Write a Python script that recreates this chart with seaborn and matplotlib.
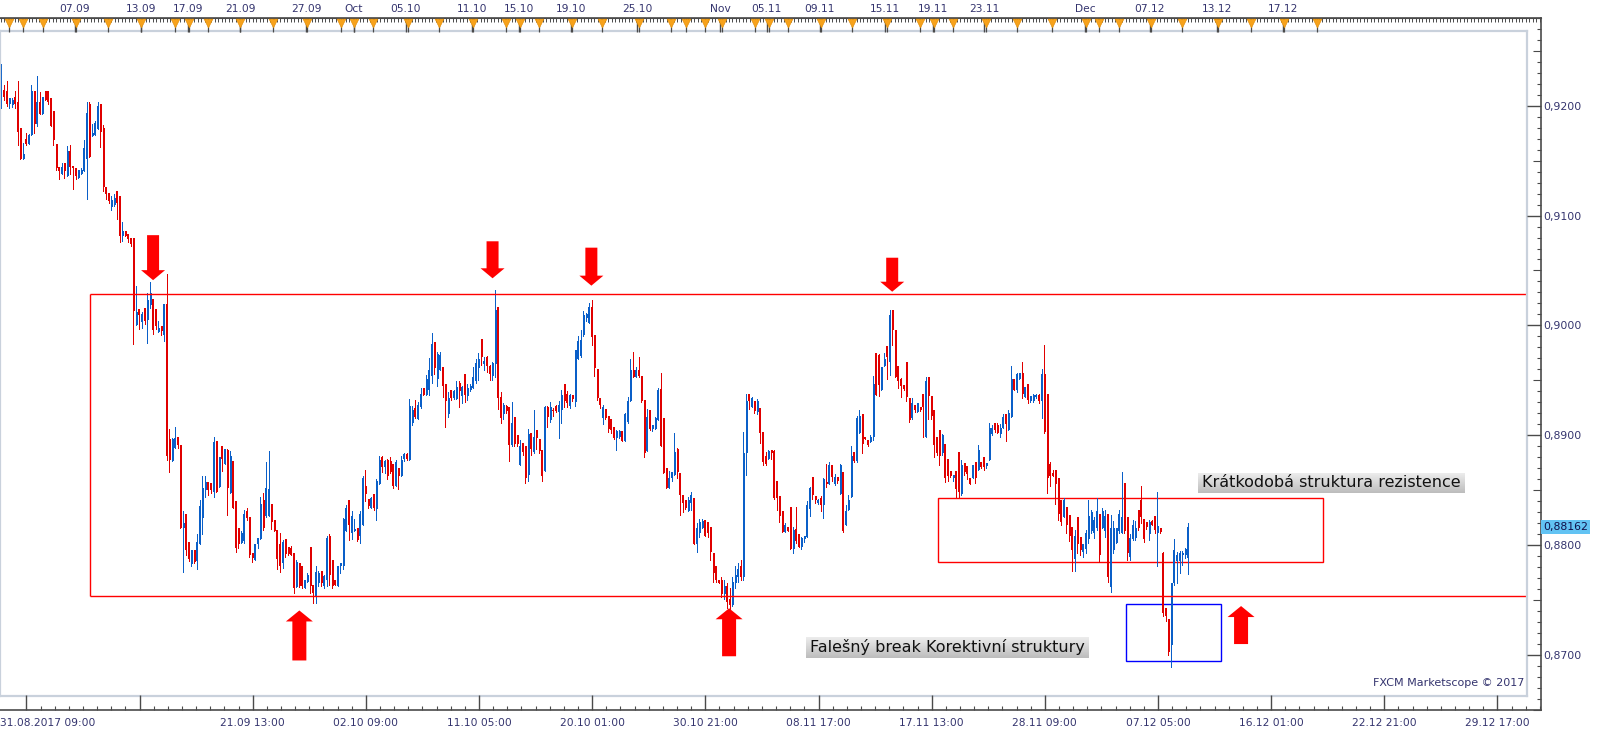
import numpy as np
import pandas as pd
import seaborn as sns
import matplotlib.pyplot as plt
from matplotlib.patches import Polygon

sns.set_style('white')
plt.rcParams['font.family'] = ['DejaVu Sans']

# H4 bars, prices in pips (9213 -> 0.9213)
opens = [
    9197, 9213, 9212, 9200, 9199, 9206, 9202, 9178, 9150, 9168,
    9164, 9172, 9212, 9182, 9202, 9191, 9212, 9212, 9205, 9194,
    9164, 9143, 9136, 9146, 9135, 9157, 9144, 9142, 9133, 9136,
    9139, 9150, 9200, 9171, 9172, 9177, 9200, 9178, 9125, 9119,
    9106, 9108, 9121, 9116, 9080, 9085, 9082, 9078, 9078, 8999,
    9014, 9002, 9015, 9004, 9017, 9023, 9014, 8993, 8998, 8990,
    9018, 8896, 8876, 8888, 8898, 8890, 8815, 8828, 8802, 8782,
    8795, 8785, 8800, 8824, 8849, 8857, 8856, 8848, 8894, 8852,
    8889, 8873, 8886, 8847, 8876, 8839, 8815,
    8801, 8803, 8830, 8825, 8792, 8786, 8800, 8805, 8840, 8826,
    8826, 8837, 8822, 8813, 8800, 8783, 8805, 8798, 8797, 8792,
    8761, 8783, 8780, 8760, 8766, 8798, 8763, 8752, 8765, 8776,
    8762, 8768, 8808, 8786, 8768, 8762, 8780, 8780, 8812, 8840,
    8810, 8812, 8815, 8808, 8818, 8853, 8841, 8833, 8846, 8832,
    8855, 8879, 8870, 8877, 8876, 8873, 8853, 8869, 8862, 8878,
    8882, 8877, 8910, 8924, 8914, 8925, 8942, 8936, 8940, 8953,
    8984, 8950, 8958, 8961, 8946, 8918, 8940, 8933, 8932, 8947,
    8935, 8955, 8935, 8940, 8942, 8948, 8960,
    8987, 8964, 8970, 8962, 8953, 8964, 9016, 8934, 8918, 8926,
    8925, 8890, 8916, 8899, 8872, 8892, 8889, 8863, 8901, 8884,
    8904, 8896, 8886, 8867, 8925, 8913, 8922, 8926, 8920, 8922,
    8946, 8937, 8926, 8936, 8929, 8968, 8971, 8990, 9006, 9001,
    9016, 8990, 8959, 8933, 8915, 8923, 8917, 8914, 8907, 8897,
    8898, 8903, 8894, 8911, 8930, 8958, 8952, 8958, 8953, 8931,
    8885, 8922, 8905, 8905, 8913, 8941, 8915, 8869, 8851, 8860,
    8863, 8887, 8865, 8845, 8840, 8830, 8838, 8842, 8800, 8810,
    8815, 8822, 8820, 8816, 8792, 8780, 8768,
    8768, 8755, 8762, 8750, 8745, 8765, 8770, 8780, 8770, 8883,
    8937, 8925, 8930, 8920, 8924, 8902, 8880, 8878, 8886, 8885,
    8858, 8844, 8830, 8811, 8816, 8834, 8796, 8814, 8809, 8798,
    8805, 8807, 8832, 8861, 8844, 8838, 8842, 8836, 8857, 8855,
    8872, 8855, 8861, 8846, 8866, 8818, 8831, 8843, 8884, 8876,
    8901, 8918, 8898, 8895, 8893, 8898, 8974, 8972, 8940, 8962,
    8980, 8966, 9013, 8995, 8962, 8950, 8945, 8966, 8933, 8915,
    8927, 8920, 8925, 8937, 8898, 8952, 8935, 8922, 8898, 8904,
    8883, 8891, 8878, 8867, 8860, 8867, 8884,
    8846, 8874, 8871, 8860, 8860, 8875, 8868, 8875, 8879, 8871,
    8877, 8900, 8910, 8908, 8900, 8906, 8918, 8904, 8916, 8950,
    8940, 8950, 8956, 8934, 8946, 8930, 8930, 8934, 8936, 8930,
    8955, 8937, 8873, 8865, 8868, 8860, 8840, 8825, 8834, 8827,
    8816, 8787, 8825, 8807, 8793, 8796, 8805, 8812, 8810, 8815,
    8828, 8815, 8812, 8828, 8761, 8795, 8801, 8812, 8810, 8856,
    8825, 8789, 8805, 8806, 8831, 8840, 8823, 8820, 8809, 8821,
    8826, 8810, 8815, 8792, 8742, 8732, 8709, 8765, 8785, 8785,
    8790, 8790, 8788,
]
highs = [
    9236, 9217, 9221, 9205, 9205, 9212, 9221, 9178, 9165, 9174,
    9173, 9217, 9212, 9225, 9211, 9206, 9212, 9212, 9205, 9194,
    9164, 9143, 9146, 9146, 9162, 9163, 9144, 9142, 9140, 9142,
    9167, 9202, 9202, 9182, 9185, 9202, 9200, 9181, 9125, 9119,
    9116, 9118, 9121, 9116, 9093, 9085, 9082, 9078, 9078, 9035,
    9014, 9011, 9015, 9028, 9038, 9023, 9014, 9003, 8998, 9018,
    9046, 8905, 8897, 8907, 8898, 8890, 8830, 8828, 8802, 8795,
    8795, 8809, 8840, 8862, 8862, 8857, 8856, 8898, 8894, 8879,
    8889, 8887, 8887, 8885, 8876, 8839, 8815,
    8812, 8831, 8833, 8825, 8792, 8800, 8806, 8843, 8847, 8875,
    8885, 8837, 8822, 8813, 8810, 8804, 8805, 8798, 8799, 8792,
    8786, 8783, 8780, 8768, 8774, 8798, 8763, 8780, 8776, 8776,
    8772, 8808, 8809, 8786, 8768, 8780, 8783, 8824, 8836, 8840,
    8830, 8823, 8815, 8830, 8862, 8868, 8841, 8843, 8846, 8859,
    8880, 8880, 8877, 8878, 8879, 8873, 8877, 8869, 8880, 8883,
    8883, 8932, 8926, 8931, 8929, 8942, 8942, 8954, 8969, 8992,
    8984, 8975, 8975, 8961, 8946, 8938, 8940, 8940, 8948, 8948,
    8944, 8955, 8946, 8946, 8961, 8968, 8974,
    8987, 8970, 8971, 8963, 8966, 9031, 9016, 8938, 8928, 8927,
    8925, 8929, 8916, 8899, 8895, 8892, 8889, 8905, 8901, 8922,
    8904, 8896, 8886, 8926, 8926, 8929, 8924, 8927, 8930, 8940,
    8946, 8939, 8937, 8936, 8977, 8989, 8995, 9012, 9010, 9019,
    9022, 8990, 8959, 8933, 8927, 8923, 8917, 8914, 8907, 8904,
    8904, 8903, 8919, 8934, 8968, 8975, 8961, 8970, 8953, 8931,
    8923, 8922, 8908, 8916, 8942, 8956, 8915, 8869, 8867, 8866,
    8901, 8888, 8865, 8845, 8840, 8843, 8848, 8842, 8819, 8823,
    8823, 8822, 8820, 8816, 8792, 8780, 8768,
    8770, 8768, 8765, 8760, 8770, 8780, 8783, 8786, 8902, 8937,
    8937, 8934, 8930, 8932, 8924, 8902, 8884, 8886, 8886, 8886,
    8858, 8844, 8830, 8819, 8816, 8834, 8816, 8834, 8809, 8807,
    8808, 8839, 8852, 8861, 8844, 8841, 8844, 8860, 8873, 8875,
    8872, 8864, 8861, 8873, 8866, 8836, 8845, 8889, 8884, 8917,
    8922, 8918, 8898, 8895, 8899, 8953, 8974, 8973, 8961, 8974,
    8980, 9013, 9013, 8995, 8962, 8951, 8945, 8966, 8933, 8933,
    8927, 8928, 8925, 8937, 8952, 8952, 8935, 8922, 8898, 8904,
    8900, 8891, 8878, 8867, 8863, 8867, 8884,
    8877, 8874, 8871, 8860, 8872, 8875, 8890, 8875, 8879, 8874,
    8910, 8908, 8910, 8910, 8909, 8918, 8918, 8922, 8962, 8950,
    8956, 8956, 8966, 8943, 8946, 8935, 8937, 8937, 8937, 8959,
    8981, 8937, 8875, 8868, 8868, 8860, 8840, 8842, 8834, 8827,
    8816, 8813, 8825, 8807, 8800, 8813, 8840, 8831, 8825, 8842,
    8828, 8833, 8831, 8828, 8827, 8821, 8815, 8831, 8866, 8856,
    8825, 8809, 8822, 8821, 8831, 8853, 8823, 8820, 8822, 8822,
    8826, 8848, 8815, 8793, 8742, 8732, 8765, 8805, 8793, 8794,
    8794, 8797, 8819,
]
lows = [
    9196, 9204, 9198, 9196, 9197, 9196, 9163, 9150, 9150, 9163,
    9164, 9172, 9174, 9180, 9191, 9191, 9204, 9200, 9180, 9163,
    9140, 9132, 9136, 9133, 9135, 9136, 9123, 9132, 9133, 9136,
    9139, 9114, 9152, 9171, 9172, 9177, 9161, 9121, 9114, 9110,
    9104, 9107, 9096, 9075, 9076, 9080, 9075, 9071, 8982, 8999,
    8996, 8997, 9000, 8983, 9015, 8991, 8996, 8993, 8990, 8985,
    8877, 8866, 8876, 8888, 8888, 8815, 8775, 8790, 8785, 8780,
    8783, 8778, 8800, 8809, 8843, 8845, 8847, 8843, 8848, 8852,
    8867, 8873, 8827, 8847, 8833, 8793, 8797,
    8801, 8801, 8822, 8789, 8784, 8786, 8797, 8805, 8813, 8825,
    8826, 8814, 8812, 8778, 8775, 8779, 8789, 8790, 8790, 8756,
    8761, 8761, 8760, 8760, 8766, 8756, 8747, 8747, 8762, 8762,
    8760, 8762, 8763, 8760, 8763, 8762, 8774, 8778, 8812, 8804,
    8805, 8812, 8803, 8801, 8818, 8839, 8833, 8833, 8831, 8822,
    8855, 8866, 8865, 8859, 8865, 8851, 8853, 8850, 8862, 8876,
    8877, 8877, 8908, 8915, 8914, 8924, 8936, 8936, 8936, 8947,
    8955, 8944, 8958, 8934, 8907, 8916, 8931, 8932, 8932, 8925,
    8928, 8929, 8931, 8939, 8942, 8947, 8949,
    8963, 8958, 8957, 8949, 8949, 8952, 8923, 8910, 8914, 8919,
    8876, 8889, 8889, 8889, 8872, 8881, 8856, 8858, 8881, 8883,
    8887, 8883, 8858, 8867, 8907, 8911, 8917, 8920, 8897, 8910,
    8925, 8925, 8924, 8930, 8926, 8968, 8970, 8989, 9003, 9001,
    8981, 8953, 8931, 8924, 8909, 8914, 8902, 8901, 8896, 8886,
    8897, 8894, 8894, 8910, 8930, 8952, 8952, 8952, 8929, 8879,
    8885, 8904, 8903, 8905, 8913, 8889, 8865, 8851, 8851, 8858,
    8863, 8860, 8827, 8829, 8832, 8830, 8831, 8800, 8793, 8807,
    8815, 8808, 8807, 8786, 8766, 8766, 8765,
    8752, 8750, 8742, 8740, 8744, 8760, 8766, 8768, 8768, 8863,
    8923, 8925, 8919, 8918, 8892, 8872, 8872, 8878, 8878, 8841,
    8831, 8820, 8811, 8811, 8812, 8796, 8792, 8801, 8798, 8796,
    8802, 8807, 8826, 8841, 8838, 8837, 8830, 8824, 8852, 8855,
    8858, 8854, 8856, 8846, 8811, 8818, 8831, 8843, 8875, 8875,
    8901, 8883, 8896, 8889, 8893, 8895, 8936, 8935, 8940, 8962,
    8950, 8954, 8981, 8952, 8942, 8934, 8940, 8930, 8911, 8914,
    8920, 8920, 8921, 8898, 8898, 8914, 8914, 8879, 8881, 8872,
    8881, 8857, 8858, 8861, 8858, 8843, 8843,
    8845, 8863, 8859, 8855, 8860, 8856, 8868, 8869, 8868, 8869,
    8877, 8899, 8902, 8901, 8898, 8906, 8894, 8904, 8916, 8940,
    8938, 8950, 8933, 8934, 8928, 8929, 8929, 8933, 8928, 8915,
    8901, 8847, 8853, 8862, 8837, 8822, 8818, 8825, 8810, 8803,
    8776, 8776, 8792, 8790, 8789, 8792, 8801, 8810, 8806, 8813,
    8784, 8815, 8807, 8766, 8757, 8792, 8801, 8810, 8810, 8810,
    8786, 8786, 8804, 8804, 8813, 8819, 8802, 8814, 8804, 8818,
    8810, 8780, 8810, 8735, 8730, 8700, 8689, 8763, 8765, 8774,
    8781, 8788, 8773,
]
closes = [
    9213, 9206, 9200, 9205, 9204, 9200, 9175, 9150, 9155, 9164,
    9172, 9212, 9182, 9202, 9191, 9206, 9204, 9202, 9180, 9167,
    9142, 9139, 9143, 9139, 9157, 9143, 9142, 9135, 9140, 9140,
    9160, 9192, 9152, 9174, 9183, 9198, 9175, 9125, 9118, 9112,
    9113, 9115, 9110, 9080, 9085, 9080, 9077, 9073, 9012, 9011,
    9008, 9009, 9003, 9022, 9028, 8995, 8998, 8997, 8994, 9018,
    8880, 8877, 8896, 8897, 8890, 8815, 8819, 8795, 8787, 8795,
    8784, 8802, 8835, 8851, 8857, 8849, 8849, 8893, 8848, 8879,
    8878, 8887, 8851, 8880, 8833, 8797, 8800,
    8810, 8828, 8824, 8790, 8788, 8800, 8806, 8837, 8815, 8851,
    8850, 8820, 8812, 8787, 8780, 8802, 8791, 8791, 8790, 8760,
    8784, 8762, 8762, 8768, 8772, 8762, 8756, 8775, 8774, 8765,
    8771, 8806, 8772, 8762, 8763, 8780, 8783, 8823, 8833, 8818,
    8826, 8814, 8804, 8828, 8860, 8846, 8835, 8842, 8833, 8858,
    8877, 8870, 8876, 8862, 8866, 8853, 8875, 8862, 8877, 8882,
    8878, 8926, 8922, 8916, 8927, 8937, 8936, 8950, 8958, 8982,
    8960, 8973, 8972, 8944, 8930, 8933, 8933, 8939, 8943, 8939,
    8943, 8936, 8942, 8944, 8952, 8965, 8968,
    8970, 8967, 8962, 8955, 8965, 9013, 8933, 8915, 8927, 8921,
    8890, 8910, 8891, 8891, 8889, 8884, 8860, 8900, 8887, 8898,
    8897, 8885, 8862, 8925, 8916, 8925, 8921, 8921, 8927, 8936,
    8930, 8928, 8936, 8932, 8977, 8985, 8986, 9008, 9009, 9016,
    8988, 8960, 8933, 8927, 8925, 8915, 8905, 8904, 8897, 8903,
    8903, 8894, 8918, 8930, 8958, 8952, 8958, 8953, 8930, 8883,
    8916, 8905, 8908, 8915, 8940, 8889, 8865, 8851, 8860, 8866,
    8884, 8866, 8845, 8838, 8833, 8840, 8845, 8800, 8815, 8820,
    8821, 8808, 8810, 8793, 8774, 8768, 8765,
    8755, 8762, 8748, 8745, 8766, 8772, 8778, 8770, 8883, 8930,
    8930, 8933, 8921, 8930, 8901, 8875, 8873, 8885, 8883, 8842,
    8842, 8826, 8811, 8818, 8812, 8796, 8813, 8803, 8798, 8806,
    8808, 8836, 8851, 8845, 8840, 8840, 8836, 8859, 8855, 8872,
    8861, 8861, 8858, 8872, 8812, 8830, 8840, 8880, 8876, 8915,
    8917, 8891, 8896, 8890, 8898, 8946, 8936, 8945, 8961, 8968,
    8970, 9008, 8995, 8952, 8948, 8944, 8941, 8934, 8913, 8928,
    8922, 8928, 8922, 8925, 8948, 8935, 8917, 8890, 8883, 8880,
    8899, 8860, 8862, 8862, 8863, 8850, 8848,
    8872, 8866, 8864, 8855, 8872, 8860, 8886, 8870, 8870, 8874,
    8906, 8906, 8904, 8901, 8906, 8916, 8909, 8919, 8950, 8940,
    8955, 8956, 8937, 8943, 8931, 8935, 8936, 8936, 8930, 8955,
    8902, 8860, 8862, 8862, 8855, 8828, 8820, 8840, 8818, 8808,
    8795, 8808, 8800, 8795, 8800, 8810, 8826, 8829, 8822, 8830,
    8790, 8830, 8826, 8770, 8815, 8815, 8815, 8828, 8825, 8812,
    8792, 8806, 8818, 8815, 8815, 8825, 8805, 8816, 8820, 8818,
    8813, 8817, 8811, 8738, 8735, 8702, 8765, 8795, 8790, 8792,
    8792, 8796, 8816,
]
last_price = 0.88162

# bottom time axis (one major tick every 41 bars)
first_label = '31.08.2017 09:00'
bottom_labels = ['', '', '21.09 13:00', '02.10 09:00', '11.10 05:00', '20.10 01:00',
                 '30.10 21:00', '08.11 17:00', '17.11 13:00', '28.11 09:00',
                 '07.12 05:00', '16.12 01:00', '22.12 21:00', '29.12 17:00']

# top calendar strip (positions in bar index)
top_labels = ['07.09', '13.09', '17.09', '21.09', '27.09', 'Oct', '05.10', '11.10',
              '15.10', '19.10', '25.10', 'Nov', '05.11', '09.11', '15.11', '19.11',
              '23.11', 'Dec', '07.12', '13.12', '17.12']
top_label_pos = [26.8, 50.6, 67.8, 86.6, 110.5, 127.9, 146.7, 170.7, 187.7, 206.5,
                 230.4, 260.5, 277.5, 296.7, 320.3, 337.7, 356.3, 392.8, 416.3,
                 440.6, 464.5]
event_pos = [2.8, 8.1, 15.2, 27.1, 38.8, 50.7, 63.0, 68.1, 75.0, 86.6, 98.6, 110.9,
             123.2, 127.9, 134.8, 147.5, 158.7, 171.0, 183.0, 188.0, 195.0, 206.9,
             217.8, 231.2, 242.8, 248.2, 255.0, 261.2, 273.2, 278.3, 285.1, 297.1,
             308.3, 321.0, 333.0, 338.0, 345.1, 356.9, 368.1, 380.8, 393.1, 397.8,
             405.1, 416.7, 427.9, 441.0, 452.9, 464.9, 476.8]

# annotations
range_left, range_low, range_high = 32.1, 0.8753, 0.9027
short_box = (339.5, 479.0, 0.8784, 0.8842)
fake_box = (407.6, 442.0, 0.8694, 0.8746)
down_x = [55.1, 178.1, 213.9, 322.9]
down_tip = [0.9040, 0.90417, 0.9035, 0.90295]
up_x = [108.1, 263.8, 449.3]
up_tip = [0.8740, 0.8742, 0.8744]
text_resist = ('Krátkodobá struktura rezistence', 482.1, 0.88562)
text_fake = ('Falešný break Korektivní struktury', 342.9, 0.87068)

df = pd.DataFrame({'open': opens, 'high': highs, 'low': lows, 'close': closes}) / 1e4
df['idx'] = np.arange(len(df))

RED, BLUE = '#e00000', '#0a5fc8'
LBL = '#34346e'
AXC = '#4a4a4a'
W, H = 1599, 736
PX_BAR, PX_PRICE = 2.76, 11010.0


def frac(x0, y0, x1, y1):
    return [x0 / W, 1 - y1 / H, (x1 - x0) / W, (y1 - y0) / H]


def xlim_px(x0, x1):
    return ((x0 - 1) / PX_BAR, (x1 - 1) / PX_BAR)


def ylim_px(y0, y1):
    return (0.92 - (y1 - 104) / PX_PRICE, 0.92 - (y0 - 104) / PX_PRICE)


fig = plt.figure(figsize=(W / 100, H / 100), dpi=100)

# ---- plot area ----
ax = fig.add_axes(frac(0, 31, 1527, 696), zorder=1)
ax.set_xlim(*xlim_px(0, 1527))
ax.set_ylim(*ylim_px(31, 696))
ax.set_xticks([])
ax.set_yticks([])
for s in ax.spines.values():
    s.set_color('#c9d1dc')
    s.set_linewidth(1.6)

# candles: 1 px wick, 2 px body
col = np.where(df['close'] >= df['open'], BLUE, RED)
ax.vlines(df['idx'], df['low'], df['high'], colors=col, lw=0.72, antialiased=False)
body_lo = np.minimum(df['open'], df['close'])
body_hi = np.maximum(np.maximum(df['open'], df['close']), body_lo + 0.0001)
ax.vlines(df['idx'] + 0.18, body_lo, body_hi, colors=col, lw=1.44, antialiased=False,
          capstyle='butt')

# range box and zones
xmax = ax.get_xlim()[1]
ax.hlines([range_low, range_high], range_left, xmax, colors='#ff0000', lw=1)
ax.vlines(range_left, range_low, range_high, colors='#ff0000', lw=1)
x0, x1, y0, y1 = short_box
ax.add_patch(plt.Rectangle((x0, y0), x1 - x0, y1 - y0, fill=False, ec='#ff0000', lw=1))
x0, x1, y0, y1 = fake_box
ax.add_patch(plt.Rectangle((x0, y0), x1 - x0, y1 - y0, fill=False, ec='#0000ff', lw=1))

# block arrows (sizes in pixels)
bx, py = 1 / PX_BAR, 1 / PX_PRICE


def block_arrow(x, tip, sign, length, shaft, head, head_len):
    pts = [(0, 0), (-head / 2, head_len), (-shaft / 2, head_len), (-shaft / 2, length),
           (shaft / 2, length), (shaft / 2, head_len), (head / 2, head_len)]
    xy = [(x + dx * bx, tip + sign * dy * py) for dx, dy in pts]
    ax.add_patch(Polygon(xy, closed=True, fc='#ff0000', ec='none', zorder=5))


for x, t, L in zip(down_x, down_tip, [45, 37, 38, 34]):
    block_arrow(x, t, 1, L, 12, 24, 10)
for x, t, L in zip(up_x, up_tip, [50, 48, 38]):
    block_arrow(x, t, -1, L, 14, 27, 11)

# labels on a grey gradient plate
labels = [ax.text(x, y, txt, ha='center', va='center', fontsize=11.5, color='#111111',
                  zorder=7) for txt, x, y in (text_resist, text_fake)]
fig.canvas.draw()
grad = np.linspace(0, 1, 32).reshape(-1, 1)
inv = ax.transData.inverted()
for t in labels:
    bb = t.get_window_extent()
    (gx0, gy0), (gx1, gy1) = inv.transform([(bb.x0 - 4, bb.y0 - 3), (bb.x1 + 4, bb.y1 + 2)])
    ax.imshow(grad, cmap=sns.blend_palette(['#ececec', '#bdbdbd'], as_cmap=True),
              extent=(gx0, gx1, gy0, gy1), aspect='auto', zorder=6, interpolation='bilinear')
ax.set_xlim(*xlim_px(0, 1527))
ax.set_ylim(*ylim_px(31, 696))

ax.text(0.9985, 0.012, 'FXCM Marketscope © 2017', transform=ax.transAxes,
        ha='right', va='bottom', fontsize=8, color=LBL)

# ---- axis frame (bottom time axis, right price axis) ----
ao = fig.add_axes(frac(0, 18, 1541, 710), zorder=2)
ao.patch.set_alpha(0)
ao.set_xlim(*xlim_px(0, 1541))
ao.set_ylim(*ylim_px(18, 710))
ao.spines['left'].set_visible(False)
for s in ('top', 'right', 'bottom'):
    ao.spines[s].set_color(AXC)
    ao.spines[s].set_linewidth(1.2)

lo, hi = ao.get_xlim()
maj = 9.2 + 41 * np.arange(len(bottom_labels))
ao.set_xticks(maj)
ao.set_xticklabels(bottom_labels)
mino = np.arange(9.2, hi, 41 / 8)
ao.set_xticks([m for m in mino if m > lo and not np.isclose((m - 9.2) % 41, 0)], minor=True)
ao.tick_params(axis='x', which='major', direction='in', length=10.5, width=1, color=AXC,
               labelsize=7.7, labelcolor=LBL, pad=5.5)
ao.tick_params(axis='x', which='minor', direction='in', length=3, width=0.8, color=AXC)
ao.text(0, -0.0185, first_label, transform=ao.transAxes, ha='left', va='center',
        fontsize=7.7, color=LBL)

ao.yaxis.tick_right()
yt = np.round(np.arange(0.87, 0.9201, 0.01), 2)
ao.set_yticks(yt)
ao.set_yticklabels([f'{v:.4f}'.replace('.', ',') for v in yt])
ym = [v for v in np.round(np.arange(0.865, 0.928, 0.001), 3)
      if not np.isclose((v * 1000) % 10, 0)]
ao.set_yticks([v for v in ym if not np.isclose((v * 1000) % 5, 0)], minor=True)
ao.tick_params(axis='y', which='major', direction='in', length=10, width=1, color=AXC,
               labelsize=7.8, labelcolor=LBL, pad=1.5)
ao.tick_params(axis='y', which='minor', direction='in', length=3, width=0.8, color=AXC)
half = [v for v in ym if np.isclose((v * 1000) % 5, 0)]
ao.hlines(half, 1 - 8 / 1541, 1, transform=ao.get_yaxis_transform(), colors=AXC, lw=0.8,
          clip_on=False)
ao.text(1 + 2 / 1541, last_price, f'{last_price:.5f}'.replace('.', ','),
        transform=ao.get_yaxis_transform(), ha='left', va='center', fontsize=7.8,
        color='#10104a', bbox=dict(boxstyle='square,pad=0.15', fc='#62c3f3', ec='none'))

# ---- top calendar strip ----
at = ao.twiny()
at.set_xlim(lo, hi)
at.spines['top'].set_color(AXC)
at.set_xticks(top_label_pos)
at.set_xticklabels(top_labels)
at.set_xticks(np.arange(0, hi, 1.25), minor=True)
at.tick_params(axis='x', which='major', direction='in', length=10, width=1, color=AXC,
               labelsize=7.7, labelcolor=LBL, pad=3)
at.tick_params(axis='x', which='minor', direction='in', length=3, width=0.7, color=AXC)
for s in ('left', 'right', 'bottom'):
    at.spines[s].set_visible(False)
tr = at.get_xaxis_transform()
at.vlines(event_pos, 1 - 14 / 692, 1, transform=tr, colors=AXC, lw=0.9)
at.scatter(event_pos, [1 - 4.5 / 692] * len(event_pos), transform=tr, marker='v', s=40,
           color='#f7a21b', edgecolors='#e08a00', linewidths=0.4, zorder=5, clip_on=False)

fig.savefig('out.png', dpi=100)
